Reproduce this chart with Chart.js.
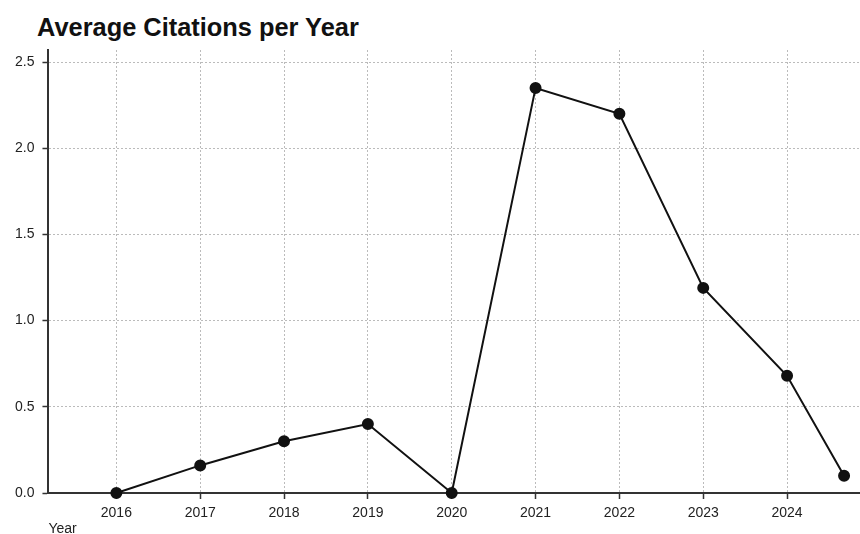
<!DOCTYPE html>
<html>
<head>
<meta charset="utf-8">
<script src="https://cdn.jsdelivr.net/npm/chart.js@4"></script>
<style>
  html, body { margin: 0; padding: 0; background: #fff; }
  #wrap { position: relative; width: 860px; height: 534px; overflow: hidden; }
  #title { position: absolute; left: 37px; top: 13px; font: bold 25.4px "Liberation Sans", Arial, sans-serif; color: #111; white-space: nowrap; }
  canvas { position: absolute; left: 0; top: 0; }
</style>
</head>
<body>
<div id="wrap">
  <div id="title">Average Citations per Year</div>
  <canvas id="c" width="860" height="534"></canvas>
</div>
<script>
const chartTitle = "Average Citations per Year";
const xAxisTitle = "Year";
const yearPositions = [2016, 2017, 2018, 2019, 2020, 2021, 2022, 2023, 2024, 2024.68];
const avgCitations = [0, 0.16, 0.3, 0.4, 0, 2.35, 2.2, 1.19, 0.68, 0.1];
const xTickYears = [2016, 2017, 2018, 2019, 2020, 2021, 2022, 2023, 2024];
const yTickValues = [0, 0.5, 1.0, 1.5, 2.0, 2.5];

const font = "'Liberation Sans', Arial, sans-serif";
const points = yearPositions.map((x, i) => ({ x: x, y: avgCitations[i] }));

new Chart(document.getElementById('c'), {
  type: 'line',
  data: {
    datasets: [{
      label: chartTitle,
      data: points,
      borderColor: '#111',
      backgroundColor: '#111',
      borderWidth: 2,
      pointRadius: 5,
      pointHoverRadius: 5,
      pointBackgroundColor: '#111',
      pointBorderColor: '#111',
      tension: 0,
      fill: false,
      clip: false
    }]
  },
  options: {
    responsive: false,
    animation: false,
    devicePixelRatio: 1,
    layout: { autoPadding: false, padding: { left: 7, right: 0, top: 50, bottom: -2 } },
    plugins: { legend: { display: false }, tooltip: { enabled: false }, title: { display: false } },
    scales: {
      x: {
        type: 'linear',
        min: 2015.19,
        max: 2024.87,
        afterBuildTicks: (axis) => { axis.ticks = xTickYears.map(v => ({ value: v })); },
        ticks: {
          callback: (v) => String(v),
          color: '#222',
          font: { family: font, size: 14, lineHeight: 1 },
          padding: 7,
          maxRotation: 0,
          autoSkip: false
        },
        grid: { color: '#bbb', lineWidth: 1, tickLength: 6, tickColor: '#333', tickWidth: 1.5 },
        border: { display: true, color: '#333', width: 2, dash: [2, 2] },
        title: {
          display: true, text: xAxisTitle, align: 'start', color: '#222',
          font: { family: font, size: 14, lineHeight: 1 },
          padding: { top: -5, bottom: 0 }
        }
      },
      y: {
        type: 'linear',
        min: 0,
        max: 2.57,
        afterBuildTicks: (axis) => { axis.ticks = yTickValues.map(v => ({ value: v })); },
        ticks: {
          callback: (v) => Number(v).toFixed(1),
          color: '#222',
          font: { family: font, size: 14, lineHeight: 1 },
          padding: 8
        },
        grid: { color: '#bbb', lineWidth: 1, tickLength: 6, tickColor: '#333', tickWidth: 1.5 },
        border: { display: true, color: '#333', width: 2, dash: [2, 2] }
      }
    }
  }
});
</script>
</body>
</html>
